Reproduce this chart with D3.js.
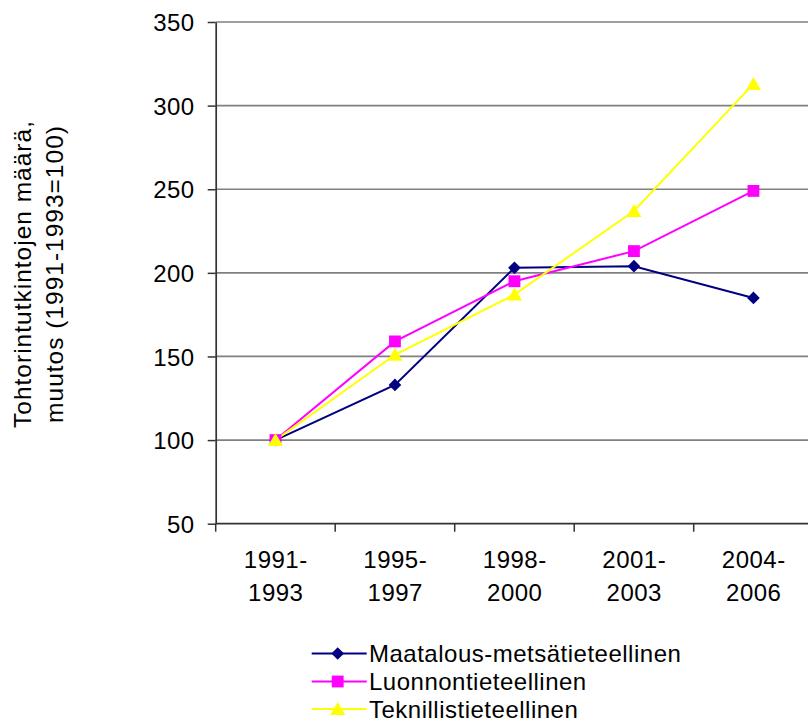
<!DOCTYPE html>
<html><head><meta charset="utf-8">
<script src="https://cdn.jsdelivr.net/npm/d3@7"></script>
<style>body{margin:0;background:#fff}svg{display:block}text{font-family:"Liberation Sans",Arial,sans-serif;fill:#000;letter-spacing:0.5px}</style>
</head><body><svg id="c" width="808" height="722"></svg>
<script>
const categories = [["1991-","1993"],["1995-","1997"],["1998-","2000"],["2001-","2003"],["2004-","2006"]];
const seriesNames = ["Maatalous-metsätieteellinen","Luonnontieteellinen","Teknillistieteellinen"];
const maatalous = [100,133,203,204,185];
const luonnon = [100,159,195,213,249];
const teknillis = [100,151,187,237,313];
const yTicks = [50,100,150,200,250,300,350];
const colors = ["#000080","#FF00FF","#FFFF00"];
const series = [maatalous, luonnon, teknillis];
const FS = 24;

function marker(k){
  if(k===0) return {d: d3.symbol().type(d3.symbolSquare).size(80)(), rot: 45};
  if(k===1) return {d: d3.symbol().type(d3.symbolSquare).size(140)(), rot: 0};
  return {d: "M0,-7L7.5,6L-7.5,6Z", rot: 0};
}

const svg = d3.select("#c");
const L = 215.7, T = 22, B = 523.7;
const step = 119.5;
const R = L + step * categories.length;
const x = d3.scaleBand().domain(d3.range(categories.length)).range([L, R]);
const y = d3.scaleLinear().domain([50,350]).range([B, T]);

// gridlines
svg.append("g").selectAll("line").data(yTicks.filter(v=>v>50)).join("line")
  .attr("x1", L).attr("x2", 808).attr("y1", d=>y(d)).attr("y2", d=>y(d))
  .attr("stroke", "#808080").attr("stroke-width", 1.7);

// y axis
const ya = svg.append("g").attr("transform", `translate(${L},0)`)
  .call(d3.axisLeft(y).tickValues(yTicks).tickSize(8).tickPadding(13).tickSizeOuter(0));
ya.select(".domain").attr("stroke", "#333").attr("stroke-width", 1.7);
ya.selectAll(".tick line").attr("stroke", "#333").attr("stroke-width", 1.5);
ya.selectAll("text").attr("font-size", FS).attr("font-family", '"Liberation Sans",Arial,sans-serif').attr("fill","#000").attr("dy","0.36em");

// x axis
svg.append("line").attr("x1", L).attr("x2", 808).attr("y1", B).attr("y2", B).attr("stroke", "#333").attr("stroke-width", 1.7);
const bounds = d3.range(categories.length + 1).map(i => L + i * x.step());
svg.append("g").selectAll("line").data(bounds).join("line")
  .attr("x1", d=>d).attr("x2", d=>d).attr("y1", B).attr("y2", B + 8)
  .attr("stroke", "#333").attr("stroke-width", 1.5);
const xl = svg.append("g").selectAll("text").data(categories).join("text")
  .attr("text-anchor", "middle").attr("font-size", FS)
  .attr("transform", (d,i)=>`translate(${x(i)+x.bandwidth()/2 + 0.3},0)`);
xl.append("tspan").attr("x",0).attr("y",568).text(d=>d[0]);
xl.append("tspan").attr("x",0).attr("y",601).text(d=>d[1]);

// y title
const yt = svg.append("text").attr("transform","translate(0,274) rotate(-90)").attr("text-anchor","middle").attr("font-size",24.5).style("letter-spacing","1px");
yt.append("tspan").attr("x",0).attr("y",31).text("Tohtorintutkintojen määrä,");
yt.append("tspan").attr("x",0).attr("y",63).text("muutos (1991-1993=100)");

// lines
const line = d3.line().x((d,i)=>x(i)+x.bandwidth()/2).y(d=>y(d));
series.forEach((s,k)=>{
  svg.append("path").datum(s).attr("d", line).attr("fill","none").attr("stroke", colors[k]).attr("stroke-width", 2);
});
series.forEach((s,k)=>{
  const m = marker(k);
  svg.append("g").selectAll("path").data(s).join("path")
    .attr("d", m.d)
    .attr("transform", (d,i)=>`translate(${x(i)+x.bandwidth()/2},${y(d)}) rotate(${m.rot})`)
    .attr("fill", colors[k]);
});

// legend
const lg = svg.append("g");
const rows = [653.5, 681.5, 709];
seriesNames.forEach((n,k)=>{
  const g = lg.append("g").attr("transform", `translate(0,${rows[k]})`);
  g.append("line").attr("x1",311.7).attr("x2",366.7).attr("stroke",colors[k]).attr("stroke-width",2);
  const m = marker(k);
  g.append("path").attr("d", m.d).attr("transform",`translate(337.7,0) rotate(${m.rot})`).attr("fill",colors[k]);
  g.append("text").attr("x",369).attr("y",8.5).attr("font-size",FS).text(n);
});
</script></body></html>
